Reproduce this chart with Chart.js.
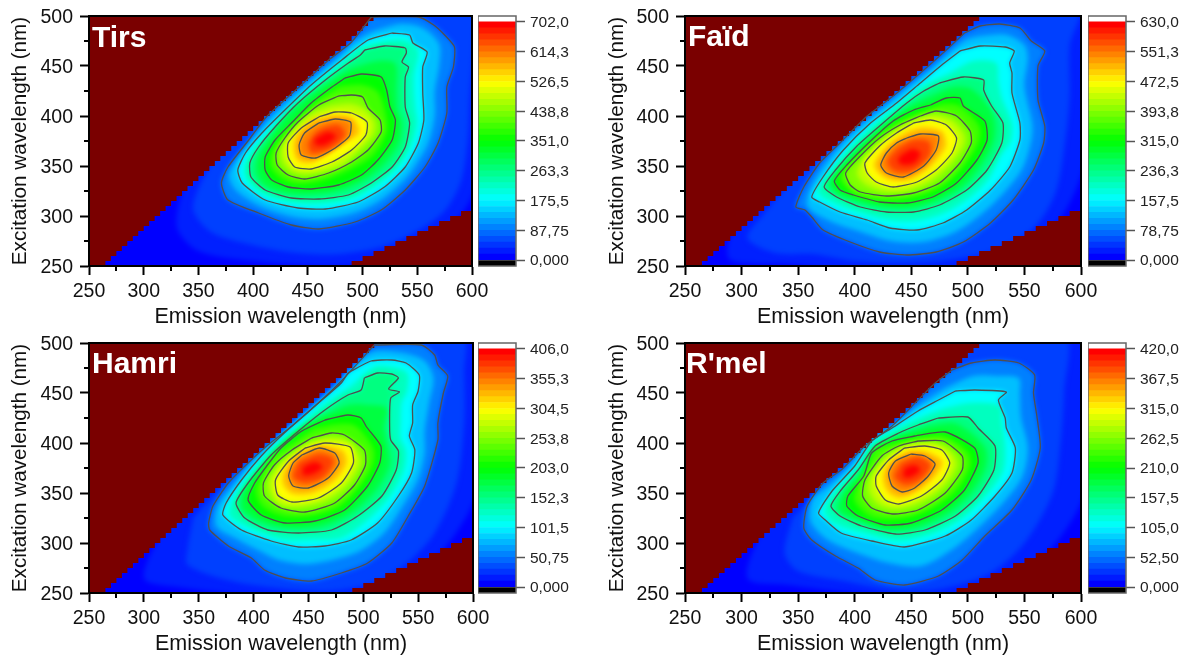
<!DOCTYPE html>
<html>
<head>
<meta charset="utf-8">
<title>EEM maps</title>
<script src="https://cdn.jsdelivr.net/npm/chart.js@4"></script>
<style>
  html, body { margin: 0; background: #fff; overflow: hidden; }
  canvas { position: absolute; }
</style>
</head>
<body>
<script>
// stairs of the masked area (emission, excitation in nm)
const maskRowEx = [250,255,260,265,270,275,280,285,290,295,300,305,310,315,320,325,330,335,340,345,350,355,360,365,370,375,380,385,390,395,400,405,410,415,420,425,430,435,440,445,450,455,460,465,470,475,480,485,490,495];
const maskRowEm = [265,270,275,280,285,290,295,300,305,310,315,320,325,330,335,340,345,350,355,360,365,370,375,380,385,390,395,400,405,410,415,420,425,430,435,440,445,450,455,460,465,470,475,480,485,490,495,500,505,510];
const maskLowEm = [490,500,510,520,530,540,550,560,570,580,590];
const maskLowEx = [255,260,265,270,275,280,285,290,295,300,305];

// colour levels of the map, in eighths of the scale
const bandSteps = [0.25,0.5,1,1.5,2,2.5,3,3.5,4,4.5,5,5.5,6,6.5,7,7.5,8];
const xMinor = [275,325,375,425,475,525,575];
const yMinor = [275,325,375,425,475];

// Tirs
const tirsBarTicks = [0,87.75,175.5,263.25,351,438.75,526.5,614.25,702];
const tirsBarLabels = ['0,000','87,75','175,5','263,3','351,0','438,8','526,5','614,3','702,0'];
const tirsLine1 = [[508,499],[551,499],[565,491],[575,481],[584,469],[583,449],[577,429],[577,403],[569,373],[557,349],[539,326],[517,306],[493,294],[460,287],[435,291],[405,303],[377,316],[371,333],[377,349],[396,376],[412,399],[441,428],[469,456],[490,474]];
const tirsLine2 = [[527,483],[543,481],[546,473],[559,464],[555,449],[555,423],[556,396],[551,373],[539,349],[520,329],[496,314],[466,307],[441,308],[411,316],[390,333],[386,346],[393,363],[408,383],[429,406],[453,431],[481,456],[505,476]];
const tirsLine3 = [[502,466],[520,470],[539,468],[540,463],[536,454],[542,449],[539,439],[539,409],[543,393],[539,369],[527,349],[508,333],[487,321],[460,317],[435,318],[411,326],[398,339],[397,353],[405,369],[420,389],[441,413],[466,436],[487,453],[498,461]];
const tirsLine4 = [[484,438],[499,442],[517,439],[522,426],[525,409],[530,396],[527,376],[514,356],[499,341],[478,331],[453,327],[432,329],[417,336],[411,346],[411,359],[420,376],[435,393],[453,413],[472,429]];
const tirsLine5 = [[478,420],[490,421],[500,419],[505,408],[516,396],[517,384],[505,366],[490,354],[469,343],[447,337],[432,341],[422,351],[421,363],[429,378],[441,394],[460,411]];
const tirsLine6 = [[460,399],[475,404],[490,403],[504,394],[503,381],[490,366],[472,354],[453,347],[438,349],[432,359],[432,373],[444,388]];
const tirsLine7 = [[460,393],[475,397],[489,394],[488,380],[475,368],[457,358],[444,361],[442,371],[447,383]];
const tirsBand025 = [[340,345],[330,290],[350,265],[400,255],[470,250],[520,255],[570,280],[600,320],[612,400],[612,510],[500,510]];
const tirsBand05 = [[370,370],[345,310],[360,285],[395,272],[440,263],[480,262],[520,270],[550,285],[575,305],[590,335],[596,375],[598,420],[602,480],[600,510],[500,510]];
const tirsBand15 = [[510,485],[535,492],[555,488],[570,472],[570,450],[566,425],[566,400],[560,373],[548,350],[539,337],[518,317],[495,304],[463,297],[438,299],[408,309],[385,325],[378,340],[385,356],[402,380],[420,403],[447,430],[475,456],[493,475]];
const tirsBand25 = [[495,468],[525,476],[541,475],[551,465],[547,440],[548,410],[550,393],[545,371],[533,349],[514,331],[490,317],[463,312],[438,313],[410,321],[394,336],[392,350],[400,366],[418,386],[435,409],[460,434],[480,453]];
const tirsBand35 = [[490,448],[515,455],[530,452],[531,425],[532,405],[536,393],[533,372],[520,352],[503,337],[480,326],[455,322],[430,323],[410,331],[403,344],[404,358],[413,375],[432,402],[460,427]];
const tirsBand45 = [[480,430],[500,431],[514,424],[521,402],[522,384],[510,361],[490,347],[465,336],[440,332],[425,338],[416,349],[416,361],[425,378],[447,403],[465,420]];
const tirsBand55 = [[470,410],[490,412],[503,406],[511,394],[510,382],[497,366],[480,350],[450,342],[435,345],[427,355],[426,368],[436,385],[452,402]];
const tirsBand65 = [[455,397],[475,401],[490,399],[497,388],[496,381],[482,373],[465,361],[453,353],[441,355],[437,365],[438,378],[447,390]];
const tirsBand75 = [[450,373],[460,386],[478,391],[484,381],[470,367],[453,363]];
const tirsBand8 = [[456,377],[468,384],[476,380],[466,371],[457,371]];

// Faïd
const faidBarTicks = [0,78.75,157.5,236.25,315,393.75,472.5,551.25,630];
const faidBarLabels = ['0,000','78,75','157,5','236,3','315,0','393,8','472,5','551,3','630,0'];
const faidLine1 = [[497,483],[511,490],[528,492],[546,488],[556,475],[568,465],[562,450],[562,416],[568,390],[567,373],[558,346],[540,316],[520,293],[496,274],[472,264],[446,261],[422,264],[396,274],[372,286],[362,299],[356,306],[348,309],[355,329],[369,353],[387,373],[411,400],[434,420],[458,443],[478,463]];
const faidLine2 = [[493,465],[511,470],[533,469],[541,465],[537,453],[539,443],[539,423],[546,393],[546,376],[537,349],[520,326],[499,306],[478,293],[455,286],[431,288],[411,296],[387,304],[369,314],[362,319],[372,339],[390,366],[414,393],[437,413],[458,433],[478,452]];
const faidLine3 = [[475,433],[496,439],[514,436],[514,426],[521,410],[531,393],[530,373],[517,346],[499,326],[475,311],[452,304],[428,304],[405,309],[384,319],[373,329],[383,346],[402,370],[422,390],[446,413],[461,425]];
const faidLine4 = [[467,411],[481,418],[493,418],[496,410],[515,395],[517,376],[508,356],[490,333],[469,319],[446,313],[422,314],[399,321],[387,326],[382,335],[393,351],[414,375],[434,395],[452,406]];
const faidLine5 = [[458,400],[472,405],[490,400],[502,385],[503,373],[493,353],[475,333],[452,323],[428,320],[405,324],[396,331],[392,343],[405,360],[422,378],[440,391]];
const faidLine6 = [[452,393],[467,396],[481,391],[490,378],[486,363],[472,346],[455,334],[434,329],[419,334],[411,343],[409,353],[422,370],[437,383]];
const faidLine7 = [[446,378],[458,382],[474,380],[472,366],[461,350],[443,339],[428,343],[423,351],[428,363],[437,373]];
const faidBand025 = [[320,320],[290,280],[290,256],[340,252],[400,246],[500,248],[545,266],[580,295],[600,340],[612,400],[612,510],[480,510],[380,400]];
const faidBand05 = [[340,330],[318,300],[305,278],[330,263],[363,262],[400,255],[446,253],[490,257],[530,268],[560,290],[578,325],[586,375],[590,420],[590,470],[598,510],[490,510],[420,430]];
const faidBand15 = [[485,465],[500,477],[520,481],[535,481],[550,471],[553,458],[550,430],[557,392],[556,375],[548,347],[530,321],[510,300],[487,283],[460,274],[432,275],[403,285],[378,295],[358,310],[363,332],[378,358],[398,383],[423,406],[446,428],[468,447]];
const faidBand25 = [[484,443],[505,455],[525,453],[527,435],[530,418],[539,393],[538,375],[529,360],[518,336],[499,316],[477,302],[453,295],[430,296],[408,302],[385,311],[367,324],[378,343],[396,368],[418,392],[441,413],[460,430]];
const faidBand35 = [[471,422],[488,429],[503,427],[518,410],[524,394],[523,375],[512,351],[495,329],[472,315],[449,308],[425,309],[402,315],[385,322],[378,332],[388,349],[408,373],[428,393],[449,410]];
const faidBand45 = [[463,406],[478,412],[493,410],[510,390],[510,375],[500,355],[482,333],[460,321],[437,316],[415,317],[397,324],[387,339],[400,356],[418,377],[437,393]];
const faidBand55 = [[455,397],[470,401],[486,396],[497,380],[495,368],[483,350],[465,333],[445,325],[425,325],[409,332],[402,343],[408,357],[423,374],[438,387]];
const faidBand65 = [[449,386],[460,389],[477,385],[481,372],[478,364],[466,348],[449,336],[431,336],[421,343],[417,352],[426,367],[437,378]];
const faidBand75 = [[438,368],[452,376],[466,374],[466,360],[451,345],[435,345],[429,355]];
const faidBand8 = [[441,361],[451,367],[458,363],[453,353],[443,351],[438,355]];

// Hamri
const hamriBarTicks = [0,50.75,101.5,152.25,203,253.75,304.5,355.25,406];
const hamriBarLabels = ['0,000','50,75','101,5','152,3','203,0','253,8','304,5','355,3','406,0'];
const hamriLine1 = [[510,498],[553,498],[565,488],[568,478],[577,467],[573,450],[568,420],[568,403],[556,357],[541,327],[526,300],[504,280],[480,270],[453,262],[429,265],[410,273],[398,285],[377,297],[360,313],[359,320],[363,337],[377,360],[395,380],[412,397],[435,417],[459,440],[480,462]];
const hamriLine2 = [[486,470],[507,482],[526,483],[539,480],[551,468],[550,452],[545,438],[545,420],[542,407],[547,393],[544,370],[532,347],[513,320],[489,303],[465,297],[441,296],[416,302],[389,313],[372,328],[375,340],[389,363],[407,387],[428,410],[456,437],[480,460]];
const hamriLine3 = [[501,465],[513,470],[526,469],[532,465],[523,454],[533,451],[525,445],[524,417],[525,403],[532,392],[530,373],[517,347],[495,327],[471,313],[441,310],[413,313],[392,325],[384,340],[395,360],[416,388],[441,412],[465,433],[486,448],[498,453]];
const hamriLine4 = [[465,423],[486,428],[498,425],[503,416],[516,397],[515,380],[504,357],[483,333],[456,322],[429,320],[407,328],[395,343],[401,360],[412,377],[425,395],[444,412]];
const hamriLine5 = [[453,405],[471,410],[483,408],[501,393],[502,378],[492,358],[474,340],[447,331],[425,335],[410,347],[409,360],[419,378],[435,393]];
const hamriLine6 = [[447,395],[465,400],[488,396],[491,380],[480,360],[459,345],[435,341],[422,348],[420,363],[432,382]];
const hamriLine7 = [[444,388],[460,395],[474,390],[478,380],[468,365],[450,355],[436,357],[432,367],[436,380]];
const hamriBand025 = [[320,320],[300,265],[330,256],[400,248],[480,246],[530,260],[570,290],[600,340],[612,400],[612,510],[480,510],[380,400]];
const hamriBand05 = [[345,325],[340,295],[340,278],[380,262],[430,254],[470,252],[510,260],[540,280],[565,310],[585,360],[592,420],[592,470],[590,510],[500,510],[420,420]];
const hamriBand15 = [[482,465],[506,490],[530,491],[555,483],[564,465],[560,440],[556,412],[556,390],[550,364],[536,337],[519,310],[497,292],[472,283],[447,279],[423,283],[404,293],[383,305],[366,317],[368,338],[385,362],[400,383],[422,405],[446,428],[470,452]];
const hamriBand25 = [[490,458],[510,476],[526,476],[540,470],[540,452],[535,440],[534,420],[534,405],[539,392],[537,372],[525,347],[504,323],[480,305],[453,303],[428,303],[400,313],[378,327],[380,340],[392,362],[412,388],[435,411],[460,435]];
const hamriBand35 = [[465,428],[487,438],[505,438],[521,435],[519,415],[522,398],[524,378],[511,352],[489,330],[463,317],[435,315],[410,320],[390,333],[390,350],[405,373],[428,402],[450,420]];
const hamriBand45 = [[455,415],[478,419],[493,417],[509,395],[509,379],[498,358],[478,336],[452,327],[427,327],[408,337],[402,352],[407,367],[417,386],[438,402]];
const hamriBand55 = [[450,400],[468,405],[486,402],[496,387],[497,379],[486,359],[467,343],[441,336],[424,338],[416,349],[414,362],[425,380],[434,388]];
const hamriBand65 = [[445,392],[462,397],[481,393],[485,380],[474,362],[455,350],[436,349],[427,358],[427,370],[435,383]];
const hamriBand75 = [[441,381],[460,389],[473,383],[464,366],[447,360],[436,366]];
const hamriBand8 = [[445,376],[456,381],[463,376],[454,369],[445,368]];

// R'mel
const rmelBarTicks = [0,52.5,105,157.5,210,262.5,315,367.5,420];
const rmelBarLabels = ['0,000','52,50','105,0','157,5','210,0','262,5','315,0','367,5','420,0'];
const rmelLine1 = [[486,473],[503,480],[524,483],[545,480],[559,468],[558,450],[561,427],[564,395],[556,363],[539,333],[515,307],[495,283],[474,267],[444,258],[418,263],[403,275],[383,287],[362,303],[355,315],[358,337],[372,360],[388,373],[409,397],[433,417],[456,443],[471,460]];
const rmelLine2 = [[489,452],[506,453],[534,451],[527,443],[533,425],[534,415],[542,395],[539,370],[524,347],[503,323],[480,307],[444,296],[415,302],[388,310],[374,323],[368,330],[380,352],[400,377],[415,402],[433,415],[456,432],[474,443]];
const rmelLine3 = [[474,425],[500,426],[509,415],[524,397],[523,373],[509,347],[489,327],[462,313],[436,309],[406,317],[387,327],[379,337],[388,353],[403,373],[418,397],[439,410],[456,418]];
const rmelLine4 = [[453,407],[480,411],[506,395],[509,380],[497,353],[477,333],[450,320],[427,318],[403,327],[393,337],[394,347],[408,367],[415,390],[433,402]];
const rmelLine5 = [[456,402],[478,402],[495,387],[495,373],[480,350],[456,333],[433,329],[415,335],[407,347],[409,363],[424,387],[439,397]];
const rmelLine6 = [[444,395],[462,397],[477,393],[484,380],[477,363],[459,347],[439,339],[427,343],[419,357],[419,367],[430,383]];
const rmelLine7 = [[450,389],[462,387],[471,379],[465,367],[453,355],[442,351],[433,357],[430,370],[436,382]];
const rmelBand025 = [[320,320],[305,265],[340,258],[400,250],[470,246],[530,258],[570,290],[600,340],[612,400],[612,510],[480,510],[380,400]];
const rmelBand05 = [[345,325],[338,290],[350,272],[390,262],[440,252],[480,255],[520,270],[550,300],[575,350],[582,400],[585,450],[585,510],[490,510],[420,420]];
const rmelBand15 = [[480,455],[505,467],[525,467],[545,465],[546,448],[547,425],[553,395],[548,366],[531,340],[509,315],[488,295],[459,277],[430,280],[400,291],[375,304],[361,322],[363,344],[376,356],[394,375],[412,399],[433,416],[456,437]];
const rmelBand25 = [[480,435],[503,440],[528,437],[530,420],[533,396],[531,371],[516,347],[496,325],[471,310],[440,302],[410,309],[381,320],[373,333],[384,353],[402,375],[416,400],[434,413],[456,425]];
const rmelBand35 = [[465,417],[490,419],[515,396],[516,376],[503,350],[483,330],[456,316],[430,313],[405,322],[386,332],[390,350],[405,370],[417,393],[436,406]];
const rmelBand45 = [[455,405],[479,407],[500,391],[502,376],[489,351],[466,333],[439,324],[415,326],[400,342],[402,356],[412,377],[419,394],[436,400]];
const rmelBand55 = [[450,399],[470,400],[486,390],[490,377],[478,356],[457,340],[436,334],[421,339],[413,352],[414,365],[427,385],[440,395]];
const rmelBand65 = [[447,392],[462,392],[474,386],[478,380],[470,365],[455,351],[440,345],[430,350],[425,362],[427,375],[435,384]];
const rmelBand75 = [[441,380],[456,386],[467,378],[459,364],[445,358],[435,366]];
const rmelBand8 = [[444,375],[453,378],[458,373],[450,366],[443,366]];

const panels = [
  { name: 'Tirs', left: 0, top: 0, axisW: 89, plotW: 383, textX: 92, textY: 47, barLeft: 478, ticks: tirsBarTicks, labels: tirsBarLabels,
    lines: [tirsLine1,tirsLine2,tirsLine3,tirsLine4,tirsLine5,tirsLine6,tirsLine7],
    bands: [tirsBand025,tirsBand05,tirsLine1,tirsBand15,tirsLine2,tirsBand25,tirsLine3,tirsBand35,tirsLine4,tirsBand45,tirsLine5,tirsBand55,tirsLine6,tirsBand65,tirsLine7,tirsBand75,tirsBand8] },
  { name: 'Faïd', left: 597, top: 0, axisW: 88, plotW: 396, textX: 91, textY: 46, barLeft: 1088, ticks: faidBarTicks, labels: faidBarLabels,
    lines: [faidLine1,faidLine2,faidLine3,faidLine4,faidLine5,faidLine6,faidLine7],
    bands: [faidBand025,faidBand05,faidLine1,faidBand15,faidLine2,faidBand25,faidLine3,faidBand35,faidLine4,faidBand45,faidLine5,faidBand55,faidLine6,faidBand65,faidLine7,faidBand75,faidBand8] },
  { name: 'Hamri', left: 0, top: 327, axisW: 89, plotW: 384, textX: 92, textY: 46, barLeft: 478, ticks: hamriBarTicks, labels: hamriBarLabels,
    lines: [hamriLine1,hamriLine2,hamriLine3,hamriLine4,hamriLine5,hamriLine6,hamriLine7],
    bands: [hamriBand025,hamriBand05,hamriLine1,hamriBand15,hamriLine2,hamriBand25,hamriLine3,hamriBand35,hamriLine4,hamriBand45,hamriLine5,hamriBand55,hamriLine6,hamriBand65,hamriLine7,hamriBand75,hamriBand8] },
  { name: "R'mel", left: 597, top: 327, axisW: 88, plotW: 396, textX: 89, textY: 46, barLeft: 1088, ticks: rmelBarTicks, labels: rmelBarLabels,
    lines: [rmelLine1,rmelLine2,rmelLine3,rmelLine4,rmelLine5,rmelLine6,rmelLine7],
    bands: [rmelBand025,rmelBand05,rmelLine1,rmelBand15,rmelLine2,rmelBand25,rmelLine3,rmelBand35,rmelLine4,rmelBand45,rmelLine5,rmelBand55,rmelLine6,rmelBand65,rmelLine7,rmelBand75,rmelBand8] }
];

const FONT = '"Liberation Sans", Arial, sans-serif';
const INK = '#111';
const MASK_RED = '#7a0000';
const CANVAS_H = 330;
const PLOT_TOP = 16;
const PLOT_H = 250;
const RIGHT_ROOM = 30;
const SOFT = 'blur(2.5px)';

// Origin style rainbow, f from 0 (blue) to 1 (red)
function rainbow(f) {
  const t = Math.min(1, Math.max(0, f)) * 4;
  let r = 0, g = 0, b = 0;
  if (t < 1) { g = t; b = 1; }
  else if (t < 2) { g = 1; b = 2 - t; }
  else if (t < 3) { r = t - 2; g = 1; }
  else { r = 1; g = 4 - t; }
  return `rgb(${Math.round(r * 255)},${Math.round(g * 255)},${Math.round(b * 255)})`;
}

function toPoints(list) {
  return list.map(p => ({ x: p[0], y: p[1] }));
}

function closed(list) {
  return toPoints(list.concat([list[0]]));
}

function upperMask() {
  const pts = [[240, 510], [240, 240]];
  maskRowEm.forEach((em, i) => {
    pts.push([em, i === 0 ? 240 : maskRowEx[i]]);
    pts.push([em, maskRowEx[i] + 5]);
  });
  pts.push([maskRowEm[maskRowEm.length - 1], 510]);
  return closed(pts);
}

function lowerMask() {
  const pts = [[maskLowEm[0], 240]];
  maskLowEm.forEach((em, i) => {
    pts.push([em, maskLowEx[i]]);
    pts.push([i + 1 < maskLowEm.length ? maskLowEm[i + 1] : 610, maskLowEx[i]]);
  });
  pts.push([610, 240]);
  return closed(pts);
}

function polygon(pts, color, extra) {
  return Object.assign({
    data: pts, showLine: true, fill: 'shape', backgroundColor: color,
    borderWidth: 0, pointRadius: 0, tension: 0
  }, extra || {});
}

// soft edges for the colour levels only, not for mask and lines
const softBands = {
  id: 'softBands',
  beforeDatasetsDraw(chart) { chart.ctx.filter = SOFT; },
  afterDatasetDraw(chart, args) {
    const next = chart.data.datasets[args.index - 1];
    chart.ctx.filter = next && next.isBand ? SOFT : 'none';
  },
  afterDatasetsDraw(chart) { chart.ctx.filter = 'none'; }
};

const frameAndLabel = {
  id: 'frameAndLabel',
  afterDraw(chart, args, opts) {
    const { ctx, chartArea: a, scales } = chart;
    ctx.save();
    ctx.fillStyle = '#fff';
    ctx.font = `bold 30px ${FONT}`;
    ctx.textBaseline = 'alphabetic';
    ctx.fillText(opts.text, opts.x, opts.y);
    ctx.strokeStyle = '#000';
    ctx.lineWidth = 2;
    ctx.beginPath();
    xMinor.forEach(v => {
      const px = Math.round(scales.x.getPixelForValue(v));
      ctx.moveTo(px, a.bottom);
      ctx.lineTo(px, a.bottom + 5);
    });
    yMinor.forEach(v => {
      const py = Math.round(scales.y.getPixelForValue(v));
      ctx.moveTo(a.left, py);
      ctx.lineTo(a.left - 5, py);
    });
    ctx.stroke();
    ctx.strokeRect(a.left, a.top, a.right - a.left, a.bottom - a.top);
    ctx.restore();
  }
};

const barFrame = {
  id: 'barFrame',
  afterDraw(chart) {
    const { ctx, chartArea: a } = chart;
    ctx.save();
    ctx.strokeStyle = '#666';
    ctx.lineWidth = 1.5;
    ctx.strokeRect(a.left, a.top, a.right - a.left, a.bottom - a.top);
    ctx.restore();
  }
};

function addCanvas(left, top, w, h) {
  const c = document.createElement('canvas');
  c.width = w;
  c.height = h;
  c.style.left = left + 'px';
  c.style.top = top + 'px';
  c.style.width = w + 'px';
  c.style.height = h + 'px';
  document.body.appendChild(c);
  return c;
}

function drawMap(p) {
  const width = p.axisW + p.plotW + RIGHT_ROOM;
  const datasets = [];
  p.lines.forEach(l => datasets.push({
    data: closed(l), showLine: true, fill: false, borderColor: '#4f4f4f',
    borderWidth: 1.3, pointRadius: 0, tension: 0.2
  }));
  datasets.push(polygon(lowerMask(), MASK_RED));
  datasets.push(polygon(upperMask(), MASK_RED));
  for (let i = p.bands.length - 1; i >= 0; i--) {
    datasets.push(polygon(closed(p.bands[i]), rainbow(bandSteps[i] / 8), { tension: 0.3, isBand: true }));
  }
  datasets.push(polygon(closed([[230, 230], [620, 230], [620, 520], [230, 520]]), rainbow(0), { isBand: true }));

  new Chart(addCanvas(p.left, p.top, width, CANVAS_H), {
    type: 'scatter',
    data: { datasets },
    options: {
      responsive: false,
      animation: false,
      devicePixelRatio: 1,
      layout: { padding: { top: PLOT_TOP, right: RIGHT_ROOM } },
      plugins: {
        legend: { display: false },
        tooltip: { enabled: false },
        frameAndLabel: { text: p.name, x: p.textX, y: p.textY }
      },
      scales: {
        x: {
          type: 'linear', min: 250, max: 600,
          afterFit(s) {
            s.height = CANVAS_H - PLOT_TOP - PLOT_H;
            s.paddingLeft = 0;
            s.paddingRight = 0;
          },
          ticks: { stepSize: 50, color: INK, padding: 5, maxRotation: 0, font: { family: FONT, size: 19.5 } },
          grid: { drawOnChartArea: false, color: '#000', tickLength: 9, tickWidth: 2 },
          border: { color: '#000', width: 2 },
          title: { display: true, text: 'Emission wavelength (nm)', color: INK, padding: { top: 1, bottom: 0 }, font: { family: FONT, size: 21.5 } }
        },
        y: {
          type: 'linear', min: 250, max: 500,
          afterFit(s) {
            s.width = p.axisW;
            s.paddingTop = 0;
            s.paddingBottom = 0;
          },
          // blank first line nudges the digits down onto the tick
          ticks: { stepSize: 50, color: INK, padding: 7, font: { family: FONT, size: 19.5, lineHeight: '3px' }, callback: v => ['', String(v)] },
          grid: { drawOnChartArea: false, color: '#000', tickLength: 9, tickWidth: 2 },
          border: { color: '#000', width: 2 },
          title: { display: true, text: 'Excitation wavelength (nm)', color: INK, padding: { top: 8, bottom: 0 }, font: { family: FONT, size: 20.7 } }
        }
      }
    },
    plugins: [softBands, frameAndLabel]
  });
}

function drawBar(p) {
  const top = p.ticks[p.ticks.length - 1];
  const step = top / 40;
  const datasets = [{ data: [[-step, 0]], backgroundColor: '#000' }];
  for (let i = 0; i < 40; i++) {
    datasets.push({ data: [[i * step, (i + 1) * step]], backgroundColor: rainbow(i / 39) });
  }
  datasets.push({ data: [[top, top + step]], backgroundColor: '#fff' });

  new Chart(addCanvas(p.barLeft, p.top, 100, CANVAS_H), {
    type: 'bar',
    data: { labels: [''], datasets },
    options: {
      responsive: false,
      animation: false,
      devicePixelRatio: 1,
      layout: { padding: { top: PLOT_TOP, bottom: CANVAS_H - PLOT_TOP - PLOT_H } },
      datasets: { bar: { grouped: false, barPercentage: 1, categoryPercentage: 1, borderWidth: 0 } },
      plugins: { legend: { display: false }, tooltip: { enabled: false } },
      scales: {
        x: { display: false },
        y: {
          position: 'right', min: -step, max: top + step,
          afterFit(s) {
            s.width = 62;
            s.paddingTop = 0;
            s.paddingBottom = 0;
          },
          afterBuildTicks(s) { s.ticks = p.ticks.map(v => ({ value: v })); },
          ticks: {
            autoSkip: false, color: '#222', padding: 5,
            font: { family: FONT, size: 15.5, lineHeight: '2px' },
            callback(v, i) { return ['', p.labels[i]]; }
          },
          grid: { drawOnChartArea: false, color: '#555', tickLength: 9, tickWidth: 1.5 },
          border: { display: false }
        }
      }
    },
    plugins: [barFrame]
  });
}

panels.forEach(p => {
  drawMap(p);
  drawBar(p);
});
</script>
</body>
</html>
